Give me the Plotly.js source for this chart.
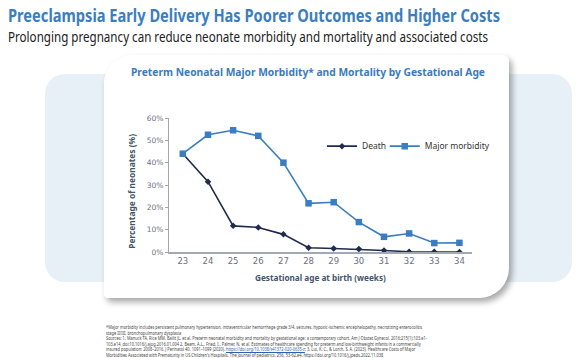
<!DOCTYPE html>
<html>
<head>
<meta charset="utf-8">
<script src="https://cdn.plot.ly/plotly-3.0.1.min.js"></script>
<style>
  html, body { margin:0; padding:0; background:#fff; }
  #wrap { position:relative; width:585px; height:358px; overflow:hidden; font-family:"Noto Sans", sans-serif; }
  #band { position:absolute; left:45px; top:74px; width:527px; height:208px; background:#E7EFF7; border-radius:20px; }
  #card { position:absolute; left:104px; top:55px; width:405px; height:243px; background:#fff;
          border-radius:28px 6px 30px 4px; box-shadow:3px 4px 6px rgba(0,0,0,0.35); }
  .fit { position:absolute; white-space:nowrap; transform-origin:0 0; }
  #h1 { left:8px; top:3px; font-size:18px; font-weight:bold; color:#3B7EC0; }
  #h2 { left:8px; top:26px; font-size:15px; color:#222; }
  #ctitle { left:131px; top:65px; font-size:10.5px; font-weight:bold; color:#3A7BBE; }
  #chart { position:absolute; left:0; top:0; width:585px; height:358px; }
  #foot { position:absolute; left:106px; top:325px; font-size:4.6px; line-height:5.5px; color:#444; }
  #foot div { white-space:nowrap; transform-origin:0 0; }
  #foot a { color:#2E5FA8; text-decoration:underline; }
</style>
</head>
<body>
<div id="wrap">
  <div id="band"></div>
  <div id="card"></div>
  <div id="h1" class="fit" data-w="492">Preeclampsia Early Delivery Has Poorer Outcomes and Higher Costs</div>
  <div id="h2" class="fit" data-w="480">Prolonging pregnancy can reduce neonate morbidity and mortality and associated costs</div>
  <div id="ctitle" class="fit" data-w="354">Preterm Neonatal Major Morbidity* and Mortality by Gestational Age</div>
  <div id="chart"></div>
  <div id="foot">
    <div>*Major morbidity includes persistent pulmonary hypertension, intraventricular hemorrhage grade 3/4, seizures, hypoxic-ischemic encephalopathy, necrotizing enterocolitis</div>
    <div>stage II/III, bronchopulmonary dysplasia</div>
    <div>Sources: 1. Manuck TA, Rice MM, Bailit JL, et al. Preterm neonatal morbidity and mortality by gestational age: a contemporary cohort. Am J Obstet Gynecol. 2016;215(1):103.e1-</div>
    <div>103.e14. doi:10.1016/j.ajog.2016.01.004 2. Beam, A.L., Fried, I., Palmer, N. et al. Estimates of healthcare spending for preterm and low-birthweight infants in a commercially</div>
    <div>insured population: 2008–2016. J Perinatol 40, 1091–1099 (2020). <a>https://doi.org/10.1038/s41372-020-0635-z</a>; 3. Lui, K. C., &amp; Lorch, S. A. (2023). Healthcare Costs of Major</div>
    <div>Morbidities Associated with Prematurity in US Children's Hospitals. The Journal of pediatrics, 256, 53-62.e4. https://doi.org/10.1016/j.jpeds.2022.11.038</div>
  </div>
</div>
<script>
function fitAll() {
  document.querySelectorAll('.fit').forEach(el => {
    el.style.transform = 'none';
    const w = el.getBoundingClientRect().width;
    const target = +el.dataset.w;
    el.style.transform = 'scaleX(' + (target / w) + ')';
  });
  const lines = document.querySelectorAll('#foot div');
  lines.forEach(l => l.style.transform = 'none');
  const w0 = lines[0].getBoundingClientRect().width;
  const r = 321 / w0;
  lines.forEach(l => l.style.transform = 'scaleX(' + r + ')');
}
fitAll();
if (document.fonts && document.fonts.ready) document.fonts.ready.then(fitAll);

const weeks = [23, 24, 25, 26, 27, 28, 29, 30, 31, 32, 33, 34];
const death = [0.44, 0.315, 0.117, 0.11, 0.079, 0.019, 0.016, 0.013, 0.007, 0.001, 0.001, 0.0];
const morbidity = [0.44, 0.525, 0.545, 0.52, 0.40, 0.218, 0.223, 0.134, 0.068, 0.083, 0.040, 0.041];
const yTicks = [0, 0.1, 0.2, 0.3, 0.4, 0.5, 0.6];

const traces = [
  { x: weeks, y: death, name: 'Death', type: 'scatter', mode: 'lines+markers', legend: 'legend',
    line: { color: '#1F2A4F', width: 1.6 }, marker: { symbol: 'diamond', size: 5, color: '#1F2A4F' } },
  { x: weeks, y: morbidity, name: 'Major morbidity', type: 'scatter', mode: 'lines+markers', legend: 'legend2',
    line: { color: '#3A7DC0', width: 1.6 }, marker: { symbol: 'square', size: 6.5, color: '#3A7DC0' } }
];

const legFont = { family: 'Noto Sans, sans-serif', size: 8.5, color: '#333' };
const layout = {
  width: 585, height: 358,
  margin: { l: 169, r: 113, t: 118, b: 106, pad: 0 },
  paper_bgcolor: 'rgba(0,0,0,0)', plot_bgcolor: 'rgba(0,0,0,0)',
  showlegend: true,
  legend: { orientation: 'h', x: 0.505, y: 0.79, xanchor: 'left', yanchor: 'middle',
            font: legFont, bgcolor: 'rgba(0,0,0,0)', itemwidth: 30 },
  legend2: { orientation: 'h', x: 0.712, y: 0.79, xanchor: 'left', yanchor: 'middle',
             font: legFont, bgcolor: 'rgba(0,0,0,0)', itemwidth: 30 },
  xaxis: { range: [22.45, 34.5], tickvals: weeks, showgrid: false, zeroline: false,
           showline: true, linecolor: '#A3A8B5', linewidth: 2, ticks: '',
           tickfont: { family: 'DejaVu Sans, sans-serif', size: 8.5, color: '#6B7080' } },
  yaxis: { range: [0, 0.6], tickvals: yTicks, tickformat: '.0%', showgrid: false, zeroline: false,
           showline: true, linecolor: '#A6A6A6', linewidth: 1, ticks: 'outside', ticklen: 3, tickcolor: '#A6A6A6',
           tickfont: { family: 'DejaVu Sans, sans-serif', size: 7.5, color: '#6B7080' } },
  annotations: [
    { text: '<b>Percentage of neonates (%)</b>', xref: 'paper', yref: 'paper', x: -0.122, y: 0.45,
      textangle: -90, showarrow: false, xanchor: 'center', yanchor: 'middle',
      font: { family: 'Noto Sans, sans-serif', size: 8.4, color: '#44546A' } },
    { text: '<b>Gestational age at birth (weeks)</b>', xref: 'paper', yref: 'paper', x: 0.5, y: -0.194,
      showarrow: false, xanchor: 'center', yanchor: 'middle',
      font: { family: 'Noto Sans, sans-serif', size: 8.2, color: '#44546A' } }
  ]
};

Plotly.newPlot('chart', traces, layout, { displayModeBar: false, staticPlot: true });
</script>
</body>
</html>
